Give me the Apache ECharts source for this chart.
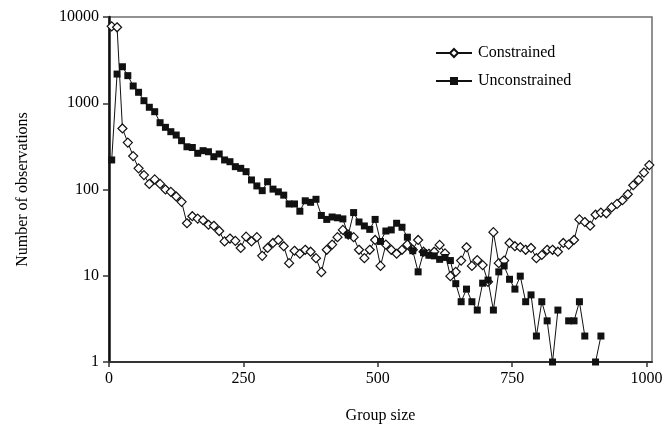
<!DOCTYPE html>
<html>
<head>
<meta charset="utf-8">
<script src="https://cdn.jsdelivr.net/npm/echarts@6/dist/echarts.min.js"></script>
<style>
html,body{margin:0;padding:0;background:#fff;}
#chart{width:669px;height:435px;}
</style>
</head>
<body>
<div id="chart"></div>
<script>
const groupSize = [
  5,15,25,35,45,55,65,75,85,95,
  105,115,125,135,145,155,165,175,185,195,
  205,215,225,235,245,255,265,275,285,295,
  305,315,325,335,345,355,365,375,385,395,
  405,415,425,435,445,455,465,475,485,495,
  505,515,525,535,545,555,565,575,585,595,
  605,615,625,635,645,655,665,675,685,695,
  705,715,725,735,745,755,765,775,785,795,
  805,815,825,835,845,855,865,875,885,895,
  905,915,925,935,945,955,965,975,985,995,
  1005
];
const constrained = [
  7800,7600,510,350,244,176,147,116,131,116,
  100,94,83,72,40.6,49,46,44,39,38,
  33,25,27,25.4,21,28.4,25,28,17,21,
  24,26,22,14,19.5,18,20,19,16,11,
  20,23,28,34,30,28,20,16,20,26,
  13,23,20,18,20,23,20,26,19,18,
  19,22.8,18.2,9.9,11.1,15,21.4,13,15.2,13.3,
  8.5,32,14,15,24,22,21.4,20,21,16,
  17.4,20,20,19,24,23,26,45,42,38,
  51,54,53,62,68,75,88,112,129,157,
  192
];
const unconstrained = [
  220,2180,2650,2090,1585,1340,1070,898,798,595,
  526,468,428,368,313,307,263,282,274,240,
  258,220,210,184,176,161,129,110,97,123,
  101,94,86,68,68,56,74,71,77,50,
  45,48,47,45.6,29.7,54,42,37.8,34.5,45,
  25,33,34,40.6,36.5,28,19.5,11.1,18.5,17.3,
  17,15.5,16.3,15,8.1,5,7,5,4,8.2,
  8.9,4,11.1,13,9.1,7,9.9,5,6,2,
  5,3,1,4,null,3,3,5,2,null,
  1,2
];
const xTicks = [0,250,500,750,1000];
const yTicks = [1,10,100,1000,10000];

function pairs(vals){
  return vals.map((v,i)=>[groupSize[i], v]);
}
const plain = v => String(Math.round(v));

const FONT = 'Liberation Serif';
const chart = echarts.init(document.getElementById('chart'), null, {renderer:'canvas'});
chart.setOption({
  animation:false,
  backgroundColor:'#fff',
  textStyle:{fontFamily:FONT,color:'#000'},
  grid:{left:109,top:17,width:543,height:345,show:true,borderColor:'#6e6e6e',borderWidth:1.5,backgroundColor:'transparent'},
  legend:{
    orient:'vertical',left:430,top:40,itemWidth:36,itemHeight:10,itemGap:12,
    textStyle:{fontFamily:FONT,fontSize:16,color:'#000',padding:[0,0,0,1]},
    data:['Constrained','Unconstrained']
  },
  xAxis:{
    type:'value',min:0,max:1010,interval:250,
    name:'Group size',nameLocation:'middle',nameGap:46,
    nameTextStyle:{fontFamily:FONT,fontSize:16,color:'#000'},
    axisLine:{show:true,lineStyle:{color:'#333',width:2}},
    axisTick:{show:true,length:5,inside:false,lineStyle:{color:'#333',width:1.5},customValues:xTicks},
    axisLabel:{fontFamily:FONT,fontSize:16,color:'#000',margin:9,customValues:xTicks,formatter:plain},
    splitLine:{show:false}
  },
  yAxis:{
    type:'log',logBase:10,min:1,max:10000,
    name:'Number of observations',nameLocation:'middle',nameGap:78,nameRotate:90,
    nameTextStyle:{fontFamily:FONT,fontSize:16,color:'#000'},
    axisLine:{show:true,lineStyle:{color:'#111',width:2.5}},
    axisTick:{show:true,length:6,inside:false,lineStyle:{color:'#333',width:1.5}},
    axisLabel:{fontFamily:FONT,fontSize:16,color:'#000',margin:10,customValues:yTicks,formatter:plain},
    minorTick:{show:false},
    splitLine:{show:false}
  },
  series:[
    {
      name:'Constrained',type:'line',data:pairs(constrained),
      symbol:'diamond',symbolSize:9,showAllSymbol:true,connectNulls:false,
      lineStyle:{color:'#111',width:1},
      itemStyle:{color:'#fff',borderColor:'#111',borderWidth:1.2},
      z:2
    },
    {
      name:'Unconstrained',type:'line',data:pairs(unconstrained),
      symbol:'rect',symbolSize:7,showAllSymbol:true,connectNulls:false,
      lineStyle:{color:'#111',width:1},
      itemStyle:{color:'#111',borderColor:'#111',borderWidth:0},
      z:3
    }
  ]
});
</script>
</body>
</html>
